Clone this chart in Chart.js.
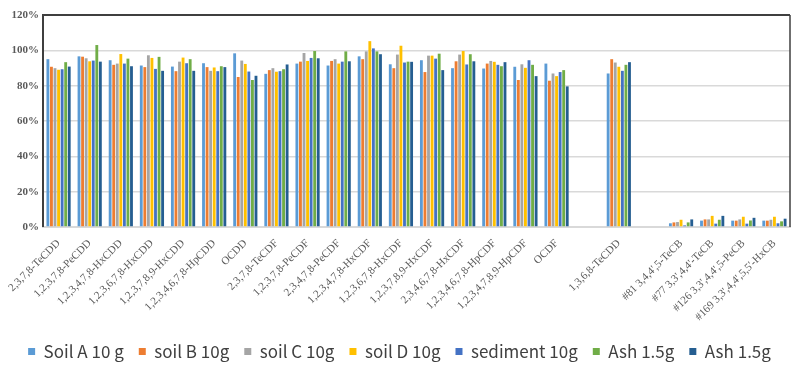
<!DOCTYPE html>
<html>
<head>
<meta charset="utf-8">
<script src="https://cdn.jsdelivr.net/npm/chart.js@4"></script>
<style>
  html, body { margin: 0; padding: 0; background: #fff; }
  #wrap { width: 800px; height: 370px; }
</style>
</head>
<body>
<div id="wrap"><canvas id="recoveryChart" width="800" height="370"></canvas></div>
<script>
// congener names, blanks are the gaps in the original sheet
const congeners = [
  "2,3,7,8-TeCDD", "1,2,3,7,8-PeCDD", "1,2,3,4,7,8-HxCDD", "1,2,3,6,7,8-HxCDD",
  "1,2,3,7,8,9-HxCDD", "1,2,3,4,6,7,8-HpCDD", "OCDD", "2,3,7,8-TeCDF",
  "1,2,3,7,8-PeCDF", "2,3,4,7,8-PeCDF", "1,2,3,4,7,8-HxCDF", "1,2,3,6,7,8-HxCDF",
  "1,2,3,7,8,9-HxCDF", "2,3,4,6,7,8-HxCDF", "1,2,3,4,6,7,8-HpCDF", "1,2,3,4,7,8,9-HpCDF",
  "OCDF", "", "1,3,6,8-TeCDD", "",
  "#81 3,4,4',5-TeCB", "#77 3,3',4,4'-TeCB", "#126 3,3',4,4',5-PeCB", "#169 3,3',4,4',5,5'-HxCB"
];

// recovery (%) per sample
const soilA = [95.0, 96.6, 94.4, 91.4, 90.8, 92.7, 98.3, 86.7, 92.5, 91.4, 96.6, 92.1, 94.4, 89.9, 89.7, 90.7, 92.5, null, 86.9, null, 2.1, 3.6, 3.6, 3.6];
const soilB = [90.7, 96.4, 91.8, 90.5, 88.2, 90.5, 84.9, 88.8, 93.6, 94.0, 95.0, 89.9, 87.7, 93.8, 92.5, 83.2, 82.8, null, 95.0, null, 2.6, 4.3, 3.6, 3.6];
const soilC = [89.9, 95.5, 92.5, 97.2, 93.6, 88.4, 94.2, 89.9, 98.5, 95.0, 99.4, 97.6, 97.0, 97.6, 94.0, 92.1, 86.9, null, 93.1, null, 2.8, 4.3, 4.3, 4.1];
const soilD = [89.0, 93.8, 97.9, 95.7, 95.9, 90.3, 92.3, 87.9, 94.0, 92.5, 105.2, 102.6, 97.0, 99.6, 93.5, 90.1, 85.4, null, 90.7, null, 4.1, 6.3, 5.8, 5.8];
const sediment = [89.3, 94.2, 92.5, 89.5, 92.7, 88.2, 88.0, 88.2, 95.7, 93.6, 101.1, 93.1, 95.3, 92.0, 91.8, 94.4, 87.7, null, 88.4, null, 0.9, 1.9, 1.9, 2.1];
const ashA = [93.3, 103.0, 95.3, 96.3, 95.0, 91.0, 83.2, 89.3, 99.6, 99.4, 99.4, 93.6, 98.1, 97.8, 91.0, 91.8, 88.8, null, 91.8, null, 2.6, 4.1, 3.7, 3.2];
const ashB = [90.8, 93.6, 91.0, 88.4, 88.4, 90.5, 85.6, 92.0, 95.5, 93.8, 97.8, 93.5, 88.8, 93.8, 93.3, 85.4, 79.6, null, 93.3, null, 4.3, 6.3, 5.2, 4.7];

const seriesNames = ["Soil A 10 g", "soil B 10g", "soil C 10g", "soil D 10g", "sediment 10g", "Ash 1.5g", "Ash 1.5g"];
const seriesColors = ["#5B9BD5", "#ED7D31", "#A5A5A5", "#FFC000", "#4472C4", "#70AD47", "#255E91"];
const seriesValues = [soilA, soilB, soilC, soilD, sediment, ashA, ashB];

const yTicks = [0, 20, 40, 60, 80, 100, 120];

// dark frame on top / left / right like the excel plot area
const frame = {
  id: "frame",
  afterDraw(chart) {
    const { ctx, chartArea: a } = chart;
    ctx.save();
    ctx.strokeStyle = "#3f3f3f";
    ctx.lineWidth = 2;
    ctx.beginPath();
    ctx.moveTo(a.left, a.bottom);
    ctx.lineTo(a.left, a.top);
    ctx.lineTo(a.right, a.top);
    ctx.stroke();
    ctx.lineWidth = 1.5;
    ctx.beginPath();
    ctx.moveTo(a.right, a.top);
    ctx.lineTo(a.right, a.bottom);
    ctx.stroke();
    ctx.restore();
  },
};

new Chart(document.getElementById("recoveryChart"), {
  type: "bar",
  data: {
    labels: congeners,
    datasets: seriesValues.map((vals, i) => ({
      label: seriesNames[i],
      data: vals,
      backgroundColor: seriesColors[i],
      categoryPercentage: 0.8,
      barPercentage: 0.8,
    })),
  },
  options: {
    responsive: false,
    animation: false,
    layout: { padding: { top: 15, right: 10, left: 9, bottom: 0 } },
    plugins: {
      tooltip: { enabled: false },
      legend: {
        position: "bottom",
        labels: {
          boxWidth: 7,
          boxHeight: 7,
          padding: 15,
          color: "#404040",
          font: { family: "'Noto Sans CJK JP', 'Noto Sans', sans-serif", size: 17 },
        },
      },
    },
    scales: {
      x: {
        grid: { display: false },
        border: { color: "#d9d9d9", width: 2 },
        ticks: {
          autoSkip: false,
          minRotation: 45,
          maxRotation: 45,
          color: "#595959",
          padding: 2,
          font: { family: "'Liberation Serif', serif", size: 11 },
        },
        afterFit(scale) { scale.height = 101; },
      },
      y: {
        min: 0,
        max: 120,
        afterBuildTicks(scale) { scale.ticks = yTicks.map((v) => ({ value: v })); },
        grid: { color: "#d9d9d9", lineWidth: 1.5, drawTicks: false },
        border: { display: false },
        ticks: {
          color: "#595959",
          padding: 4,
          font: { family: "'Liberation Serif', serif", size: 11, weight: "bold" },
          callback: (v) => v + "%",
        },
        afterFit(scale) { scale.width = 34; },
      },
    },
  },
  plugins: [frame],
});
</script>
</body>
</html>
